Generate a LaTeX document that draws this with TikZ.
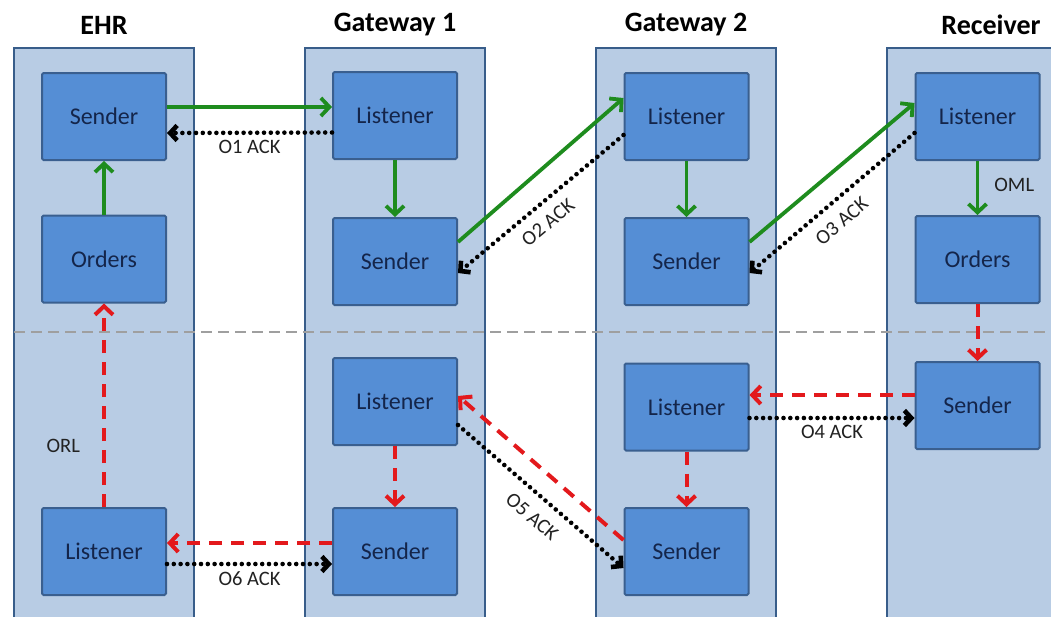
\documentclass[tikz,border=0pt]{standalone}
\usepackage{fontspec}
\setmainfont{Carlito}
\usetikzlibrary{arrows.meta}
\definecolor{lanefill}{HTML}{B8CCE4}
\definecolor{laneline}{HTML}{385D8A}
\definecolor{boxfill}{HTML}{558ED5}
\definecolor{boxline}{HTML}{3A5F8F}
\definecolor{boxtext}{HTML}{14254A}
\definecolor{okgreen}{HTML}{1E8C1E}
\definecolor{errred}{HTML}{E3191C}
\definecolor{labeltext}{HTML}{222222}
\tikzset{
  lane/.style={fill=lanefill, draw=laneline, line width=2pt},
  title/.style={font=\fontsize{28}{32}\selectfont\bfseries, text=black},
  box/.style={rectangle, rounded corners=1.5pt, fill=boxfill, draw=boxline, line width=2pt,
    minimum width=124pt, minimum height=87pt, text=boxtext, font=\fontsize{24}{27}\selectfont},
  greenarrow/.style={draw=okgreen, line width=3.8pt, -{Straight Barb[length=8.5pt,width=18pt]}},
  redarrow/.style={draw=errred, line width=4pt, dash pattern=on 13pt off 9pt, -{Straight Barb[length=8.5pt,width=18pt]}},
  ackarrow/.style={draw=black, line width=4.6pt, line cap=round, dash pattern=on 0pt off 6.8pt, -{Straight Barb[length=7pt,width=15pt]}},
  lbl/.style={text=labeltext, font=\fontsize{20.5}{23}\selectfont, inner sep=2pt},
  sepline/.style={draw=gray!75, line width=1.3pt, dash pattern=on 11pt off 6pt}
}
\begin{document}
\begin{tikzpicture}[x=1pt,y=-1pt]
\clip (0,0) rectangle (1051,616);
\fill[white] (0,0) rectangle (1051,616);
% lanes
\draw[lane] (14,48) rectangle (194,640);
\draw[lane] (305,48) rectangle (485,640);
\draw[lane] (596,48) rectangle (776,640);
\draw[lane] (887,48) rectangle (1067,640);
% titles
\node[title] (tEHR) at (104,25) {EHR};
\node[title] (tG1) at (395,25) {Gateway 1};
\node[title] (tG2) at (686,25) {Gateway 2};
\node[title] (tRec) at (991,25) {Receiver};
% separator
\coordinate (sepL) at (14,332);
\coordinate (sepR) at (1051,332);
\draw[sepline] (sepL) -- (sepR);
% boxes
\node[box] (ehrS) at (104,116.5) {Sender};
\node[box] (ehrO) at (104,259) {Orders};
\node[box] (ehrL) at (104,551.5) {Listener};
\node[box] (g1L) at (395,115.5) {Listener};
\node[box] (g1S) at (395,261.5) {Sender};
\node[box] (g1Lb) at (395,401.5) {Listener};
\node[box] (g1Sb) at (395,551.5) {Sender};
\node[box] (g2L) at (686.5,116.5) {Listener};
\node[box] (g2S) at (686.5,261.5) {Sender};
\node[box] (g2Lb) at (686.5,407) {Listener};
\node[box] (g2Sb) at (686.5,551.5) {Sender};
\node[box] (recL) at (977.5,116.5) {Listener};
\node[box] (recO) at (977.5,259.5) {Orders};
\node[box] (recS) at (977.5,405.5) {Sender};
% green flow
\draw[greenarrow] ([yshift=9.5]ehrS.east) -- ([yshift=8.5]g1L.west);
\draw[greenarrow] (ehrO.north) -- (ehrS.south);
\draw[greenarrow] (g1L.south) -- (g1S.north);
\draw[greenarrow] ([yshift=19.5]g1S.east) -- ([yshift=18.5]g2L.west);
\draw[greenarrow] (g2L.south) -- (g2S.north);
\draw[greenarrow] ([yshift=19.5]g2S.east) -- ([yshift=13.5]recL.west);
\draw[greenarrow] (recL.south) -- node[lbl, pos=0.45, right=13pt] {OML} (recO.north);
% acks (top)
\draw[ackarrow] ([yshift=-17]g1L.west) -- node[lbl, below=3pt] {O1 ACK} ([yshift=-16.5]ehrS.east);
\draw[ackarrow] ([yshift=-18.5]g2L.west) -- node[lbl, pos=0.53, sloped, below=8pt] {O2 ACK} ([yshift=-11.5]g1S.east);
\draw[ackarrow] ([yshift=-16.5]recL.west) -- node[lbl, pos=0.52, sloped, below=9pt] {O3 ACK} ([yshift=-11.5]g2S.east);
% red flow
\draw[redarrow] (recO.south) -- (recS.north);
\draw[redarrow] ([yshift=10.5]recS.west) -- ([yshift=12]g2Lb.east);
\draw[redarrow] (g2Lb.south) -- (g2Sb.north);
\draw[redarrow] ([yshift=11.5]g2Sb.west) -- ([yshift=5.5]g1Lb.east);
\draw[redarrow] (g1Lb.south) -- (g1Sb.north);
\draw[redarrow] ([yshift=8.5]g1Sb.west) -- ([yshift=8.5]ehrL.east);
\draw[redarrow] (ehrL.north) -- node[lbl, pos=0.3, left=20pt] {ORL} (ehrO.south);
% acks (bottom)
\draw[ackarrow] ([yshift=-11]g2Lb.east) -- node[lbl, below=3pt] {O4 ACK} ([yshift=-12.5]recS.west);
\draw[ackarrow] ([yshift=-23.5]g1Lb.east) -- node[lbl, pos=0.53, sloped, below=10pt] {O5 ACK} ([yshift=-16.5]g2Sb.west);
\draw[ackarrow] ([yshift=-12.5]ehrL.east) -- node[lbl, below=3pt] {O6 ACK} ([yshift=-12.5]g1Sb.west);
\end{tikzpicture}
\end{document}
